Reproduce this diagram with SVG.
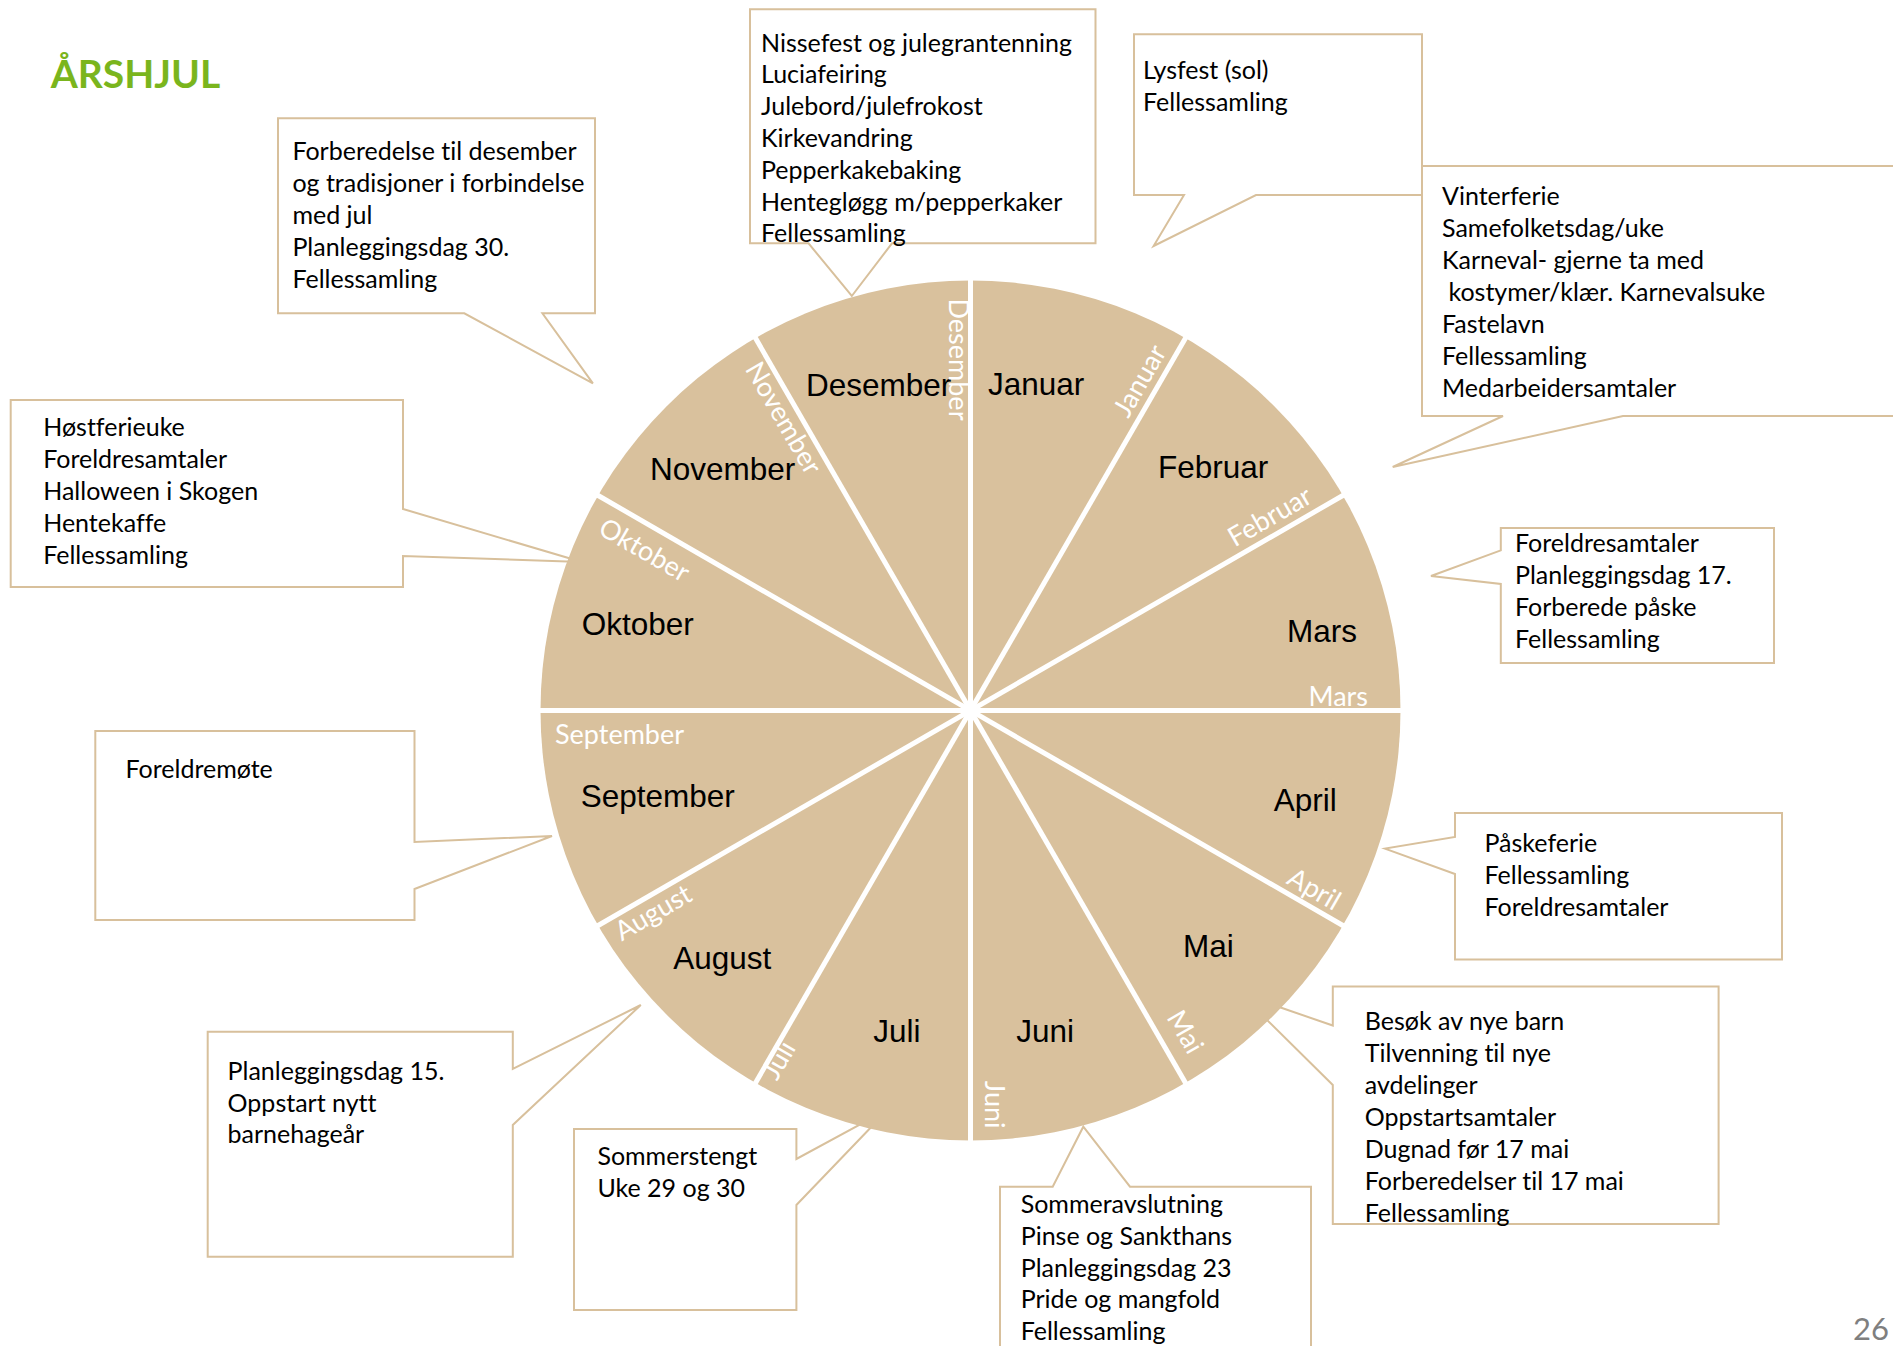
<svg xmlns="http://www.w3.org/2000/svg" width="1893" height="1346" viewBox="0 0 1893 1346">
<style>
.box{fill:#fff;stroke:#D8C09C;stroke-width:2;stroke-linejoin:miter}
.t{font-family:Lato,"Open Sans",sans-serif;font-size:25px;fill:#000;font-variant-ligatures:none}
.m{font-family:"Liberation Sans",Arial,sans-serif;font-size:31.5px;fill:#000}
.s{font-family:Lato,"Open Sans",sans-serif;font-size:27px;fill:#fff;font-variant-ligatures:none}
.sep{stroke:#fff;stroke-width:5}
</style>
<rect width="1893" height="1346" fill="#fff"/>
<text x="50.7" y="88" font-family="Lato,'Open Sans',sans-serif" font-weight="bold" font-size="39" fill="#7AB51D">ÅRSHJUL</text>

<g id="callout-november">
<path class="box" d="M278,118.3 H595 V313.3 H542.4 L592.9,383.3 L464.3,313.3 H278 Z"/>
<text class="t" x="292.4" y="160">Forberedelse til desember</text>
<text class="t" x="292.4" y="192">og tradisjoner i forbindelse</text>
<text class="t" x="292.4" y="224">med jul</text>
<text class="t" x="292.4" y="256">Planleggingsdag 30.</text>
<text class="t" x="292.4" y="288">Fellessamling</text>
</g>
<g id="callout-desember">
<path class="box" d="M750,9.3 H1095.5 V243.3 H892 L851.8,296 L808.5,243.3 H750 Z"/>
<text class="t" x="761" y="51.5">Nissefest og julegrantenning</text>
<text class="t" x="761" y="83.3">Luciafeiring</text>
<text class="t" x="761" y="115.1">Julebord/julefrokost</text>
<text class="t" x="761" y="146.9">Kirkevandring</text>
<text class="t" x="761" y="178.7">Pepperkakebaking</text>
<text class="t" x="761" y="210.5">Hentegl&#248;gg m/pepperkaker</text>
<text class="t" x="761" y="242.3">Fellessamling</text>
</g>
<g id="callout-januar">
<path class="box" d="M1134,34.3 H1422 V195 H1256 L1153.6,246 L1184,195 H1134 Z"/>
<text class="t" x="1143" y="79.3">Lysfest (sol)</text>
<text class="t" x="1143" y="111">Fellessamling</text>
</g>
<g id="callout-februar">
<path class="box" d="M1422,166 H1900 V416 H1623 L1392.7,467 L1503,416 H1422 Z"/>
<text class="t" x="1442" y="205">Vinterferie</text>
<text class="t" x="1442" y="237">Samefolketsdag/uke</text>
<text class="t" x="1442" y="269">Karneval- gjerne ta med</text>
<text class="t" x="1442" y="301" xml:space="preserve"> kostymer/kl&#230;r. Karnevalsuke</text>
<text class="t" x="1442" y="333">Fastelavn</text>
<text class="t" x="1442" y="365">Fellessamling</text>
<text class="t" x="1442" y="397">Medarbeidersamtaler</text>
</g>
<g id="callout-mars">
<path class="box" d="M1500.8,528 H1774 V663 H1500.8 V584 L1431,576 L1500.8,550.4 Z"/>
<text class="t" x="1515" y="552.3">Foreldresamtaler</text>
<text class="t" x="1515" y="584.2">Planleggingsdag 17.</text>
<text class="t" x="1515" y="616.1">Forberede p&#229;ske</text>
<text class="t" x="1515" y="648">Fellessamling</text>
</g>
<g id="callout-oktober">
<path class="box" d="M10.7,400 H403 V509 L582,562 L403,556 V587 H10.7 Z"/>
<text class="t" x="43.2" y="436">H&#248;stferieuke</text>
<text class="t" x="43.2" y="468">Foreldresamtaler</text>
<text class="t" x="43.2" y="500">Halloween i Skogen</text>
<text class="t" x="43.2" y="532">Hentekaffe</text>
<text class="t" x="43.2" y="564">Fellessamling</text>
</g>
<g id="callout-september">
<path class="box" d="M95.3,731 H414.5 V842 L552,836 L414.5,889 V920 H95.3 Z"/>
<text class="t" x="125.5" y="778.3">Foreldrem&#248;te</text>
</g>
<g id="callout-april">
<path class="box" d="M1455,813 H1782 V959.4 H1455 V874 L1385,848.6 L1455,837 Z"/>
<text class="t" x="1484.5" y="852.3">P&#229;skeferie</text>
<text class="t" x="1484.5" y="884.3">Fellessamling</text>
<text class="t" x="1484.5" y="916.3">Foreldresamtaler</text>
</g>
<g id="callout-mai">
<path class="box" d="M1332.8,986.5 H1718.6 V1224 H1332.8 V1085 L1240.5,993.8 L1332.8,1025.5 Z"/>
<text class="t" x="1364.8" y="1030.3">Bes&#248;k av nye barn</text>
<text class="t" x="1364.8" y="1062.2">Tilvenning til nye</text>
<text class="t" x="1364.8" y="1094.1">avdelinger</text>
<text class="t" x="1364.8" y="1126">Oppstartsamtaler</text>
<text class="t" x="1364.8" y="1157.9">Dugnad f&#248;r 17 mai</text>
<text class="t" x="1364.8" y="1189.8">Forberedelser til 17 mai</text>
<text class="t" x="1364.8" y="1221.7">Fellessamling</text>
</g>
<g id="callout-august">
<path class="box" d="M207.7,1031.7 H512.8 V1069 L640.8,1005 L512.8,1125 V1256.7 H207.7 Z"/>
<text class="t" x="227.6" y="1080">Planleggingsdag 15.</text>
<text class="t" x="227.6" y="1111.7">Oppstart nytt</text>
<text class="t" x="227.6" y="1143.4">barnehage&#229;r</text>
</g>
<g id="callout-juli">
<path class="box" d="M574,1129 H796.4 V1159 L888.8,1108.8 L796.4,1205 V1310 H574 Z"/>
<text class="t" x="597.4" y="1165">Sommerstengt</text>
<text class="t" x="597.4" y="1196.6">Uke 29 og 30</text>
</g>
<g id="callout-juni">
<path class="box" d="M1000,1186.7 H1052.7 L1083.3,1126.7 L1130,1186.7 H1311 V1360 H1000 Z"/>
<text class="t" x="1020.7" y="1213.3">Sommeravslutning</text>
<text class="t" x="1020.7" y="1245">Pinse og Sankthans</text>
<text class="t" x="1020.7" y="1276.7">Planleggingsdag 23</text>
<text class="t" x="1020.7" y="1308.4">Pride og mangfold</text>
<text class="t" x="1020.7" y="1340">Fellessamling</text>
</g>

<g id="wheel">
<circle cx="970.5" cy="710.5" r="430" fill="#D9C19D"/>
<g id="separators" class="sep">
<line x1="535.5" y1="710.5" x2="1405.5" y2="710.5"/>
<line x1="970.5" y1="275.5" x2="970.5" y2="1145.5"/>
<line x1="593.8" y1="493" x2="1347.2" y2="928"/>
<line x1="753" y1="333.8" x2="1188" y2="1087.2"/>
<line x1="1188" y1="333.8" x2="753" y2="1087.2"/>
<line x1="1347.2" y1="493" x2="593.8" y2="928"/>
</g>
</g>

<g id="month-januar"><text class="m" x="988" y="395">Januar</text><text class="s" text-anchor="end" transform="translate(1167.2,351.8) rotate(-60)">Januar</text></g>
<g id="month-februar"><text class="m" x="1158" y="478.3">Februar</text><text class="s" text-anchor="end" transform="translate(1314.1,501.7) rotate(-30)">Februar</text></g>
<g id="month-mars"><text class="m" x="1287" y="642.3">Mars</text><text class="s" text-anchor="end" transform="translate(1368,706)">Mars</text></g>
<g id="month-april"><text class="m" x="1273.7" y="811.3">April</text><text class="s" text-anchor="end" transform="translate(1333.9,911.1) rotate(30)">April</text></g>
<g id="month-mai"><text class="m" x="1183" y="957">Mai</text><text class="s" text-anchor="end" transform="translate(1188.4,1055.8) rotate(60)">Mai</text></g>
<g id="month-juni"><text class="m" x="1016.3" y="1042">Juni</text><text class="s" text-anchor="end" transform="translate(984.9,1128.5) rotate(90)">Juni</text></g>
<g id="month-juli"><text class="m" x="873.3" y="1042">Juli</text><text class="s" transform="translate(777.1,1081.5) rotate(-60)">Juli</text></g>
<g id="month-august"><text class="m" x="673.3" y="969.3">August</text><text class="s" transform="translate(621.7,941.4) rotate(-30)">August</text></g>
<g id="month-september"><text class="m" x="580.7" y="807">September</text><text class="s" transform="translate(555,743.7)">September</text></g>
<g id="month-oktober"><text class="m" x="581.7" y="635">Oktober</text><text class="s" transform="translate(596.8,533.2) rotate(30)">Oktober</text></g>
<g id="month-november"><text class="m" x="650" y="480">November</text><text class="s" transform="translate(744.4,368.8) rotate(60)">November</text></g>
<g id="month-desember"><text class="m" x="806" y="395.7">Desember</text><text class="s" transform="translate(948.5,298.5) rotate(90)">Desember</text></g>

<g id="connectors"></g>
<text x="1853" y="1340" font-family="Lato,'Open Sans',sans-serif" font-size="31" fill="#7F7F7F">26</text>
</svg>
